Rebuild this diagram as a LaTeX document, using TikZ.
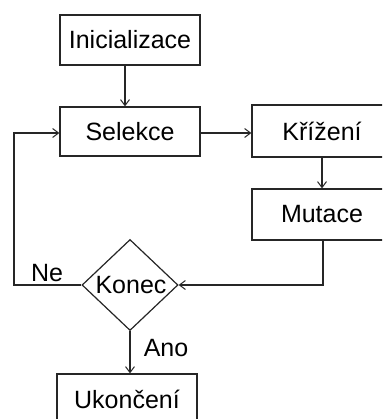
\documentclass[tikz,border=0pt]{standalone}
\usepackage{fontspec}
\setmainfont{Liberation Sans}
\usetikzlibrary{arrows.meta,shapes.geometric,calc}
\begin{document}
\begin{tikzpicture}[x=1pt,y=-1pt,
  line width=1.2pt, draw=black!85,
  box/.style={draw, rectangle, minimum width=140pt, inner sep=0pt, font=\fontsize{25}{28}\selectfont},
  dia/.style={draw, diamond, minimum width=96pt, minimum height=91pt, inner sep=0pt},
  lbl/.style={font=\fontsize{25}{28}\selectfont, inner sep=0pt},
  arr/.style={-{Straight Barb[length=6pt,width=9pt,line width=1pt]}}]
\useasboundingbox (0,0) rectangle (382,419);
\clip (0,0) rectangle (382,419);
\fill[white] (0,0) rectangle (382,419);
\node[box, minimum height=50pt] (ini) at (130,40) {Inicializace};
\node[box, minimum height=49pt] (sel) at (130,131.5) {Selekce};
\node[box, minimum height=52pt] (kri) at (322,131) {Křížení};
\node[box, minimum height=51pt] (mut) at (322,214.5) {Mutace};
\node[dia] (kon) at (130,285) {};
\node[lbl] (kont) at (131,285) {Konec};
\node[box, minimum height=50pt] (uko) at (127,399) {Ukončení};
\node[lbl] (ne) at (47,273) {Ne};
\node[lbl] (ano) at (166,348) {Ano};
\coordinate (c1) at (323,285);
\coordinate (c2) at (14,285);
\coordinate (c3) at (14,133);
\draw[arr] ([xshift=-5pt]ini.south) -- ([xshift=-5pt]sel.north);
\draw[arr] (sel.east |- c3) -- (kri.west |- c3);
\draw[arr] (kri.south) -- (mut.north);
\draw[arr] (mut.south -| c1) -- (c1) -- (kon.east);
\draw[arr] (kon.west) -- (c2) -- (c3) -- (sel.west |- c3);
\draw[arr] (kon.south) -- (kon.south |- uko.north);
\end{tikzpicture}
\end{document}
